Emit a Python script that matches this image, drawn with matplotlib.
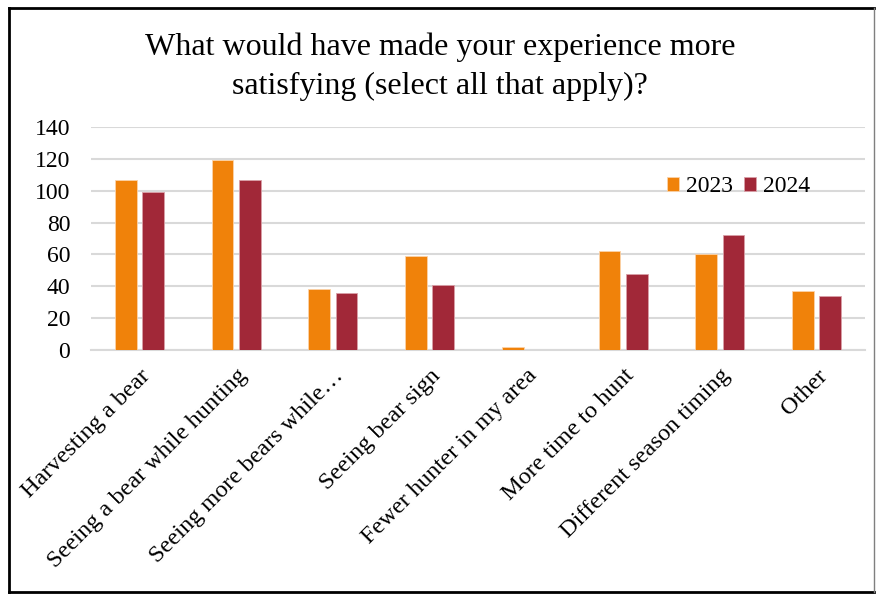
import matplotlib
matplotlib.use("Agg")
import matplotlib.pyplot as plt
import numpy as np
from matplotlib.lines import Line2D

categories = ["Harvesting a bear", "Seeing a bear while hunting", "Seeing more bears while\u2026",
              "Seeing bear sign", "Fewer hunter in my area", "More time to hunt",
              "Different season timing", "Other"]
vals_2023 = [107, 119, 38, 59, 2, 62, 60, 37]
vals_2024 = [99, 107, 36, 41, 0, 48, 72, 34]
series_names = ["2023", "2024"]
colors = ["#F0820A", "#A12838"]
yticks = [0, 20, 40, 60, 80, 100, 120, 140]

plt.rcParams['font.family'] = ['Liberation Serif', 'DejaVu Serif']

W, H = 876, 597
fig = plt.figure(figsize=(W / 100, H / 100), dpi=100)
ax = fig.add_axes([91 / W, 1 - 350 / H, (865 - 91) / W, (350 - 127) / H])

x = np.arange(len(categories))
bw = 0.225
off = 0.14
ax.bar(x - off, vals_2023, bw, color=colors[0], edgecolor="#FBD3A8", linewidth=0.6, label=series_names[0], zorder=3)
ax.bar(x + off, vals_2024, bw, color=colors[1], edgecolor="#D9A0A8", linewidth=0.6, label=series_names[1], zorder=3)

ax.set_xlim(-0.5, len(categories) - 0.5)
ax.set_ylim(0, 140)
ax.set_yticks(yticks)
ax.set_yticklabels([str(v) for v in yticks], fontsize=17)
ax.yaxis.grid(True, color="#D9D9D9", linewidth=1.5, zorder=0)
ax.set_axisbelow(True)
for s in ["top", "right", "left"]:
    ax.spines[s].set_visible(False)
ax.spines["bottom"].set_color("#D9D9D9")
ax.spines["bottom"].set_linewidth(1.5)
ax.tick_params(axis="both", length=0)
ax.tick_params(axis="y", pad=15)
ax.set_xticks(x)
ax.set_xticklabels(categories, rotation=45, ha="right", rotation_mode="anchor", fontsize=17.5)
ax.tick_params(axis="x", pad=11)

leg = ax.legend(loc="center right", bbox_to_anchor=((810 - 91) / 774, (350 - 187) / 223), ncol=2, frameon=False,
                fontsize=17, handlelength=0.5, handleheight=0.5, handletextpad=0.3, columnspacing=0.45,
                borderaxespad=0, borderpad=0)

fig.text(440 / W, 1 - 67 / H, "What would have made your experience more\nsatisfying (select all that apply)?",
         ha="center", va="center", fontsize=23, linespacing=1.45)

# Border
fig.add_artist(Line2D([9 / W, 9 / W], [1 - 8 / H, 1 - 592 / H], color="black", lw=2, transform=fig.transFigure))
fig.add_artist(Line2D([9 / W, 874 / W], [1 - 8 / H, 1 - 8 / H], color="black", lw=2, transform=fig.transFigure))
fig.add_artist(Line2D([9 / W, 874 / W], [1 - 592 / H, 1 - 592 / H], color="black", lw=2, transform=fig.transFigure))
fig.add_artist(Line2D([874 / W, 874 / W], [1 - 8 / H, 1 - 592 / H], color="#7F7F7F", lw=1, transform=fig.transFigure))

fig.savefig("out.png", dpi=100)
